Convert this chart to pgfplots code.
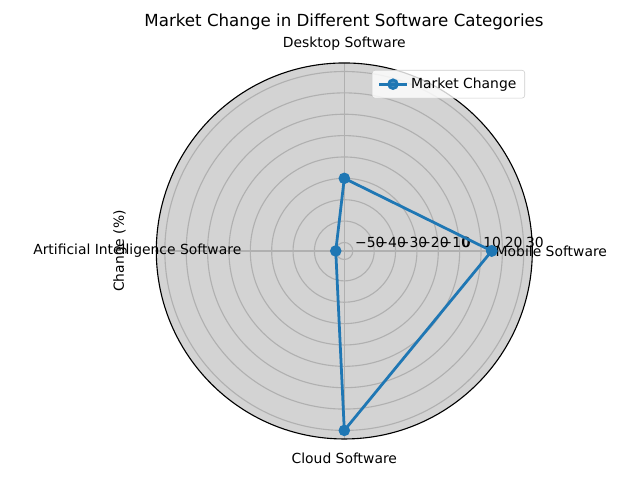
\documentclass[border=0pt]{standalone}
\usepackage{fontspec}
\setmainfont{DejaVu Sans}
\usepackage{pgfplots}
\pgfplotsset{compat=1.18}
\usepgfplotslibrary{polar}
\definecolor{tabblue}{HTML}{1F77B4}
\definecolor{bgcol}{HTML}{D3D3D3}
\definecolor{gridcol}{HTML}{B0B0B0}
\definecolor{legedge}{HTML}{CCCCCC}
\begin{document}
\begin{tikzpicture}
\path[use as bounding box] (0pt,0pt) rectangle (460.8pt,345.6pt);
\fill[bgcol] (247.9pt,164.9pt) circle (135.36pt);
\begin{polaraxis}[
  at={(247.9pt,164.9pt)}, anchor=center,
  width=270.72pt, height=270.72pt, scale only axis,
  clip=false,
  y coord trafo/.code={\pgfmathparse{#1+54}},
  y coord inv trafo/.code={\pgfmathparse{#1-54}},
  ymin=-54, ymax=34,
  xmin=0, xmax=360,
  xtick={0,90,180,270},
  xticklabels={Mobile Software, Desktop Software, Artificial Intelligence Software, Cloud Software},
  xticklabel style={anchor=center, xshift={13.7pt*cos(\tick)}, yshift={13.7pt*sin(\tick)}, font=\fontsize{10}{12}\selectfont},
  ytick={-50,-40,-30,-20,-10,0,10,20,30},
  yticklabels={−50,−40,−30,−20,−10,0,10,20,30},
  yticklabel style={anchor=base west, inner sep=0pt, xshift=1.5pt, yshift=2.2pt, font=\fontsize{10}{12}\selectfont},
  major tick length=0pt,
  grid=major,
  major grid style={draw=gridcol, line width=0.8pt},
  x axis line style={draw=black, line width=0.8pt},
  y axis line style={draw=none},
  legend style={at={(0.9806,0.9814)}, anchor=north east, draw=legedge, fill=white, fill opacity=0.8, text opacity=1, rounded corners=2pt, font=\fontsize{10}{12}\selectfont, inner xsep=4pt, inner ysep=3.5pt,
    /tikz/every even column/.append style={column sep=1pt}},
  legend cell align=left,
  legend image code/.code={\draw[#1, mark repeat=2, mark phase=2] plot coordinates {(0pt,0pt) (10pt,0pt) (20pt,0pt)};},
]
\addplot[color=tabblue, line width=2pt, mark=*, mark size=3.1pt, mark options={solid, fill=tabblue}]
  coordinates {(0,15) (90,-20) (180,-50) (270,30) (360,15)};
\addlegendentry{Market Change}
\end{polaraxis}
\node[font=\fontsize{12}{14}\selectfont] at (247.7pt,329.8pt) {Market Change in Different Software Categories};
\node[rotate=90, font=\fontsize{10}{12}\selectfont] at (86.4pt,164.9pt) {Change (\%)};
\end{tikzpicture}
\end{document}
